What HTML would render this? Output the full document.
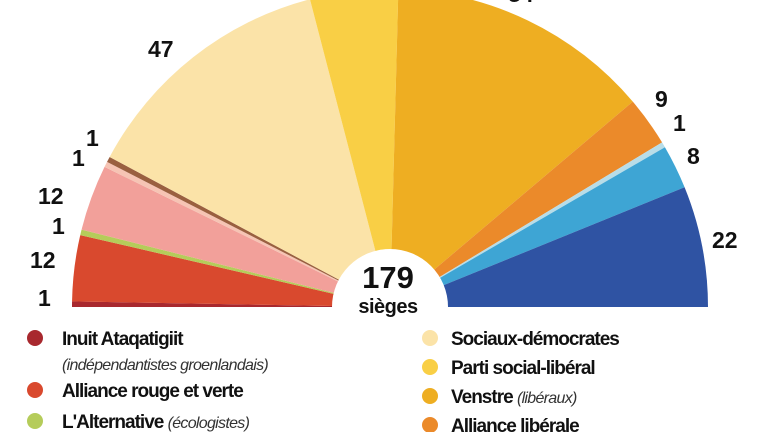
<!DOCTYPE html>
<html><head><meta charset="utf-8"><style>
html,body{margin:0;padding:0;background:#fff;}
svg{display:block;}
text{font-family:"Liberation Sans",sans-serif;}
.n{font-weight:bold;font-size:23px;fill:#111;}
.l{font-size:19px;font-weight:bold;fill:#111;letter-spacing:-1px;}
.i{font-size:16px;font-weight:normal;font-style:italic;fill:#333;letter-spacing:-0.7px;}
</style></head><body>
<svg id="s" width="770" height="432" viewBox="0 0 770 432">
<g id="w"></g>
<circle cx="390" cy="307" r="58" fill="#fff"/>
<text x="388" y="288" text-anchor="middle" font-weight="bold" font-size="31" fill="#111">179</text>
<text x="388" y="313" text-anchor="middle" font-size="20" font-weight="bold" fill="#111" letter-spacing="-0.5">sièges</text>
<text class="n" x="148" y="57">47</text>
<text class="n" x="86" y="146">1</text>
<text class="n" x="72" y="166">1</text>
<text class="n" x="38" y="204">12</text>
<text class="n" x="52" y="234">1</text>
<text class="n" x="30" y="268">12</text>
<text class="n" x="38" y="306">1</text>
<text class="n" x="508" y="2">34</text>
<text class="n" x="655" y="107">9</text>
<text class="n" x="673" y="131">1</text>
<text class="n" x="687" y="164">8</text>
<text class="n" x="712" y="248">22</text>
<circle cx="35" cy="338" r="8" fill="#a8282e"/>
<text class="l" x="62" y="345">Inuit Ataqatigiit</text>
<text class="i" x="62" y="370">(indépendantistes groenlandais)</text>
<circle cx="35" cy="390" r="8" fill="#d9492e"/>
<text class="l" x="62" y="397">Alliance rouge et verte</text>
<circle cx="35" cy="421" r="8" fill="#b5cc5a"/>
<text class="l" x="62" y="428">L'Alternative <tspan class="i">(écologistes)</tspan></text>
<circle cx="430" cy="338" r="8" fill="#fbe3a8"/>
<text class="l" x="451" y="345">Sociaux-démocrates</text>
<circle cx="430" cy="367" r="8" fill="#f9cf45"/>
<text class="l" x="451" y="374">Parti social-libéral</text>
<circle cx="430" cy="396" r="8" fill="#eeae22"/>
<text class="l" x="451" y="403">Venstre <tspan class="i">(libéraux)</tspan></text>
<circle cx="430" cy="425" r="8" fill="#eb8a2a"/>
<text class="l" x="451" y="432">Alliance libérale</text>
</svg>
<script>
var parts=[[1,"#a8282e"],[12,"#d9492e"],[1,"#b5cc5a"],[12,"#f2a09a"],[1,"#f6c4b4"],[1,"#9a6040"],[47,"#fbe3a8"],[16,"#f9cf45"],[48,"#eeae22"],[9,"#eb8a2a"],[1,"#b8dde8"],[8,"#3ea5d4"],[22,"#2f53a3"]];
var cx=390,cy=307,R=318,g=document.getElementById("w"),acc=0,h="";
parts.forEach(function(p){
 var a0=Math.PI*(1-acc/179),a1=Math.PI*(1-(acc+p[0])/179);acc+=p[0];
 var x0=cx+R*Math.cos(a0),y0=cy-R*Math.sin(a0),x1=cx+R*Math.cos(a1),y1=cy-R*Math.sin(a1);
 h+='<path d="M'+cx+' '+cy+'L'+x0+' '+y0+'A'+R+' '+R+' 0 0 1 '+x1+' '+y1+'Z" fill="'+p[1]+'"/>';
});
g.innerHTML=h;
</script>
</body></html>
